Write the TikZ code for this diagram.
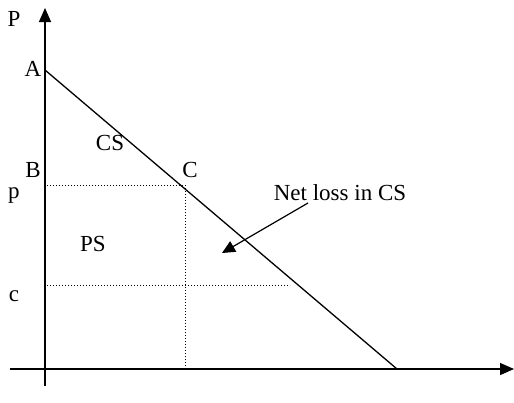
\documentclass[tikz,border=0pt]{standalone}
\usepackage{fontspec}
\setmainfont{Liberation Serif}
\usetikzlibrary{arrows.meta}
\begin{document}
\begin{tikzpicture}[x=1pt,y=-1pt,
  axis/.style={line width=1.4pt,-{Triangle[length=14pt,width=12pt]}},
  curve/.style={line width=1.3pt},
  guide/.style={line width=1pt,dotted},
  lbl/.style={font=\fontsize{23}{25}\selectfont,inner sep=0pt},
  pointer/.style={line width=1.2pt,-{Triangle[length=13pt,width=12pt]}}]
\useasboundingbox (0,0) rectangle (514,402);
\coordinate (yb) at (45,386);
\coordinate (yt) at (45,8);
\coordinate (xl) at (10,369);
\coordinate (xr) at (514,369);
\coordinate (A) at (45,70);
\coordinate (D) at (397,369);
\coordinate (Cp) at (185,185);
\coordinate (Bp) at (47,185);
\coordinate (Cx) at (185,369);
\coordinate (cl) at (47,285);
\coordinate (cr) at (290,285);
\draw[axis] (yb) -- (yt);
\draw[axis] (xl) -- (xr);
\draw[curve] (A) -- (D);
\draw[guide] (Bp) -- (Cp);
\draw[guide] (Cp) -- (Cx);
\draw[guide] (cl) -- (cr);
\node[lbl] (P) at (14,19) {P};
\node[lbl] (Al) at (33,69) {A};
\node[lbl] (CS) at (110,143) {CS};
\node[lbl] (B) at (33,170) {B};
\node[lbl] (C) at (190,170) {C};
\node[lbl] (p) at (14,196) {p};
\node[lbl] (PS) at (93,244) {PS};
\node[lbl] (c) at (14,296) {c};
\node[lbl] (net) at (340,193) {Net loss in CS};
\coordinate (tip) at (222,253);
\draw[pointer] (308,203) -- (tip);
\end{tikzpicture}
\end{document}
